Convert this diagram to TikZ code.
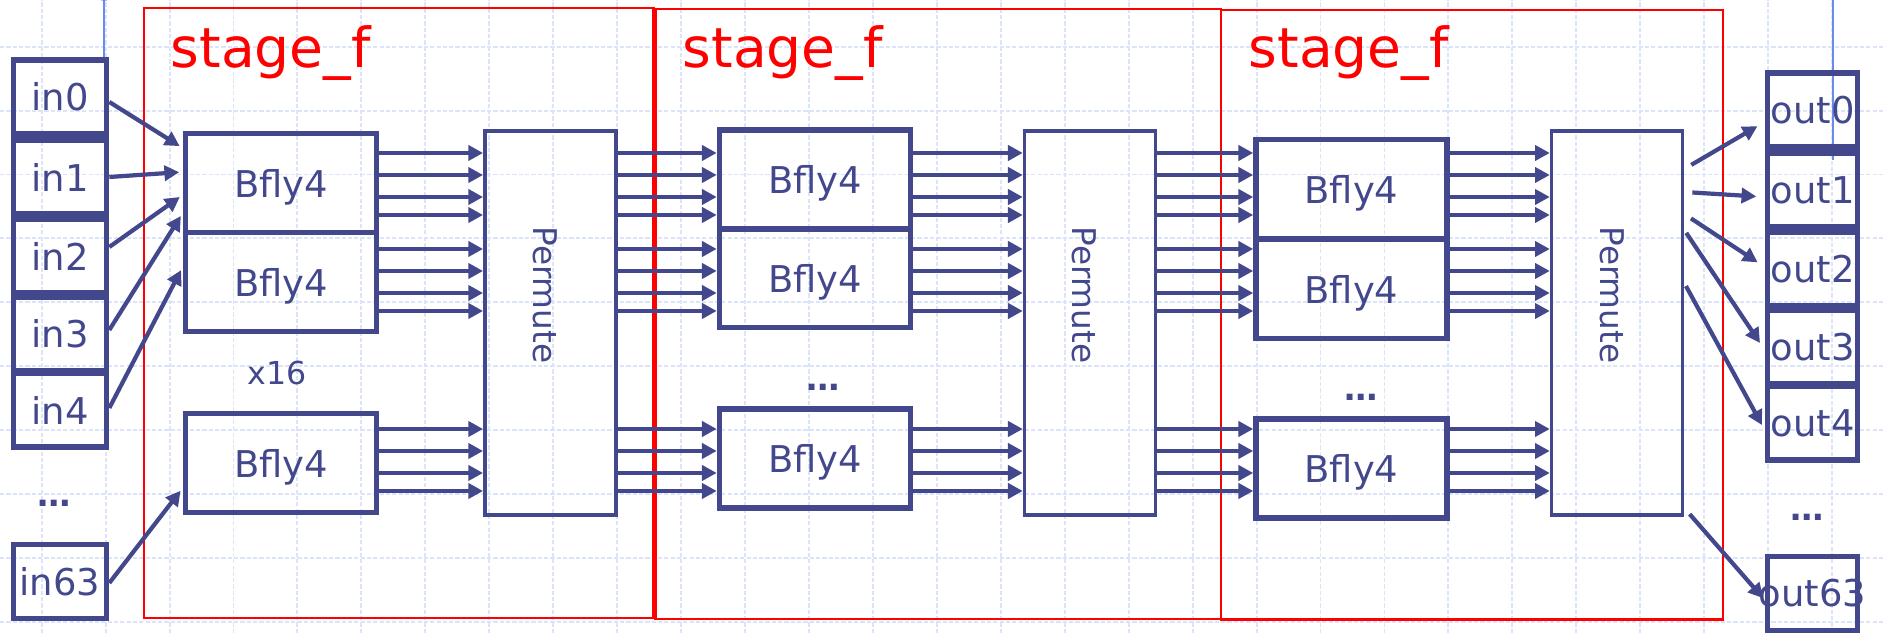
\documentclass[tikz,border=0pt]{standalone}
\usepackage{fontspec}
\setmainfont{DejaVu Sans}
\usepackage{tikz}
\usetikzlibrary{arrows.meta, positioning}

\definecolor{navy}{RGB}{67,72,140}
\definecolor{gridblue}{RGB}{220,228,250}
\definecolor{guideblue}{RGB}{108,138,238}

\begin{document}
\begin{tikzpicture}[
        port/.style={draw=navy, line width=1.6pt, minimum width=0.93cm, minimum height=0.74cm, inner sep=0pt, text=navy, font=\fontsize{10.5}{12}\selectfont},
        bfly/.style={draw=navy, line width=1.6pt, minimum width=1.91cm, minimum height=0.99cm, inner sep=0pt, text depth=0pt, text=navy, font=\fontsize{10.5}{12}\selectfont},
        permute/.style={draw=navy, line width=1pt, minimum width=1.31cm, minimum height=3.84cm},
        permtext/.style={rotate=-90, inner sep=0pt, text=navy, font=\fontsize{9.3}{11}\selectfont},
        stage/.style={draw=red, line width=0.65pt},
        stagename/.style={anchor=base west, inner sep=0pt, text=red, font=\fontsize{15.7}{18}\selectfont},
        note/.style={inner sep=0pt, text=navy, font=\fontsize{9}{11}\selectfont},
        dots/.style={inner sep=0pt, text=navy, font=\fontsize{9.5}{11}\selectfont\bfseries},
        gridline/.style={gridblue, line width=0.55pt, dash pattern=on 1.2pt off 0.6pt},
        arrow/.style={navy, line width=1.2pt, -{Triangle[length=4.2pt, width=4.3pt]}}
    ]
    \useasboundingbox (0,0) rectangle (18.85,6.33);

    % Background grid
    \foreach \k in {0,...,28}
        \draw[gridline] ({0.417+0.6394*\k},0) -- ++(0,6.33);
    \foreach \k in {0,...,9}
        \draw[gridline] (0,{5.863-0.639*\k}) -- ++(18.85,0);

    % Guides
    \draw[guideblue, line width=0.6pt] (1.04,6.33) -- (1.04,5.76);
    \fill[guideblue] (1.04,6.35) ellipse (0.05 and 0.03);
    \draw[guideblue, line width=0.6pt] (18.33,6.33) -- (18.33,4.73);

    % Stage frames
    \draw[stage] (1.443,0.152) rectangle (6.535,6.253);
    \draw[stage] (6.555,0.140) rectangle (12.210,6.243);
    \draw[stage] (12.210,0.135) rectangle (17.233,6.227);
    \node[stagename] (name1) at (1.70,5.65) {stage\_f};
    \node[stagename] (name2) at (6.82,5.65) {stage\_f};
    \node[stagename] (name3) at (12.48,5.65) {stage\_f};

    % Inputs
    \node[port] (in0) at (0.60,5.36) {in0};
    \node[port] (in1) at (0.60,4.56) {in1};
    \node[port] (in2) at (0.60,3.77) {in2};
    \node[port] (in3) at (0.60,2.99) {in3};
    \node[port] (in4) at (0.60,2.23) {in4};
    \node[dots] (indots) at (0.54,1.30) {…};
    \node[port] (in63) at (0.60,0.515) {in63};

    % Stage 1
    \node[bfly] (bf1a) at (2.81,4.50) {Bfly4};
    \node[bfly] (bf1b) at (2.81,3.51) {Bfly4};
    \node[note] (x16) at (2.77,2.605) {x16};
    \node[bfly] (bf1c) at (2.81,1.70) {Bfly4};
    \node[permute] (perm1) at (5.503,3.10) {};
    \node[permtext] (perm1txt) at (5.45,3.38) {Permute};

    % Stage 2
    \node[bfly] (bf2a) at (8.15,4.537) {Bfly4};
    \node[bfly] (bf2b) at (8.15,3.55) {Bfly4};
    \node[dots] (dots2) at (8.23,2.46) {…};
    \node[bfly] (bf2c) at (8.15,1.743) {Bfly4};
    \node[permute] (perm2) at (10.90,3.10) {};
    \node[permtext] (perm2txt) at (10.84,3.38) {Permute};

    % Stage 3
    \node[bfly] (bf3a) at (13.515,4.44) {Bfly4};
    \node[bfly] (bf3b) at (13.515,3.44) {Bfly4};
    \node[dots] (dots3) at (13.61,2.36) {…};
    \node[bfly] (bf3c) at (13.515,1.643) {Bfly4};
    \node[permute] (perm3) at (16.17,3.10) {};
    \node[permtext] (perm3txt) at (16.12,3.38) {Permute};

    % Outputs
    \node[port, minimum width=0.90cm] (out0) at (18.125,5.23) {out0};
    \node[port, minimum width=0.90cm] (out1) at (18.125,4.43) {out1};
    \node[port, minimum width=0.90cm] (out2) at (18.125,3.64) {out2};
    \node[port, minimum width=0.90cm] (out3) at (18.125,2.86) {out3};
    \node[port, minimum width=0.90cm] (out4) at (18.125,2.10) {out4};
    \node[dots] (outdots) at (18.07,1.16) {…};
    \node[port, minimum width=0.90cm] (out63) at (18.125,0.395) {\makebox[0pt]{out63}};

    % Inputs to first butterflies
    \foreach \i/\b/\ya/\yb in {0/a/5.31/4.85, 1/a/4.56/4.61, 2/a/3.86/4.38, 3/a/3.03/4.20, 4/b/2.25/3.66, 63/c/0.50/1.45}
        \draw[arrow, shorten >=1pt] (in\i.east |- 0,\ya) -- (bf1\b.west |- 0,\yb);

    % Butterflies to permute
    \foreach \s in {1,2,3}
        \foreach \g/\y in {a/4.80, a/4.58, a/4.36, a/4.18, b/3.84, b/3.62, b/3.40, b/3.22, c/2.04, c/1.82, c/1.60, c/1.42}
            \draw[arrow] (bf\s\g.east |- 0,\y) -- (perm\s.west |- 0,\y);

    % Permute to next stage
    \foreach \s/\n in {1/2, 2/3}
        \foreach \g/\y in {a/4.80, a/4.58, a/4.36, a/4.18, b/3.84, b/3.62, b/3.40, b/3.22, c/2.04, c/1.82, c/1.60, c/1.42}
            \draw[arrow] (perm\s.east |- 0,\y) -- (bf\n\g.west |- 0,\y);

    % Permute to outputs
    \foreach \o/\ya/\yb/\sa/\sb in {0/4.64/5.11/2.3pt/2.4pt, 1/4.41/4.36/2.3pt/2.4pt, 2/4.19/3.66/2.3pt/2.4pt, 3/4.03/2.83/1pt/2.4pt, 4/3.50/2.03/1pt/1.6pt, 63/1.25/0.33/2.3pt/0.7pt}
        \draw[arrow, shorten <=\sa, shorten >=\sb] (perm3.east |- 0,\ya) -- (out\o.west |- 0,\yb);

\end{tikzpicture}
\end{document}
